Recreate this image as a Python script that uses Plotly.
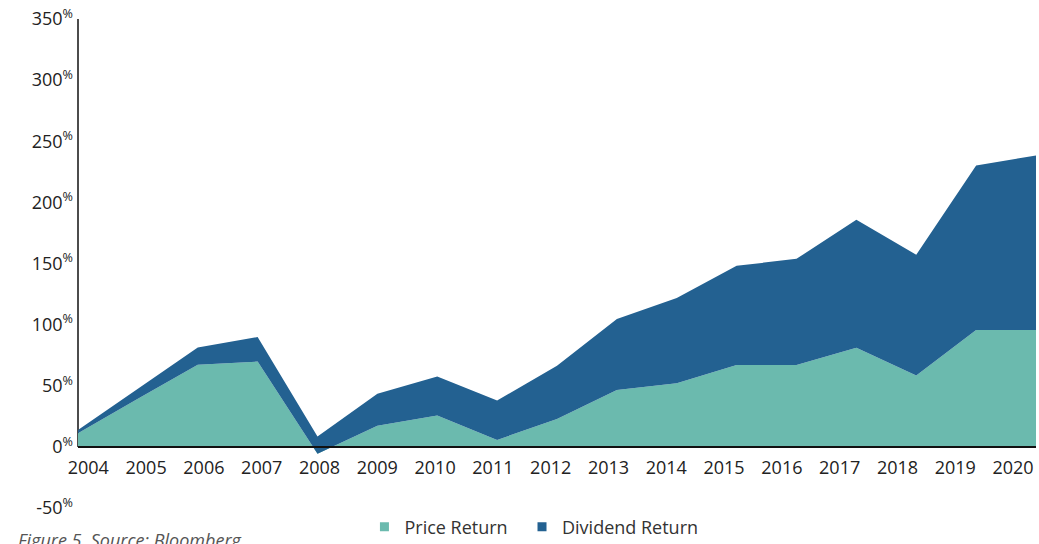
import plotly.graph_objects as go

# Cumulative returns (%) by year
years = [2004, 2005, 2006, 2007, 2008, 2009, 2010, 2011, 2012,
         2013, 2014, 2015, 2016, 2017, 2018, 2019, 2020]
price_return = [11.2, 39.3, 67.1, 69.8, -5.7, 17.2, 25.6, 5.7, 22.9,
                46.6, 52.1, 66.9, 66.9, 81.0, 58.3, 95.7, 95.7]
dividend_return = [2.7, 8.2, 14.2, 20.0, 14.1, 26.2, 31.9, 32.2, 43.4,
                   57.9, 69.6, 81.2, 86.9, 104.8, 98.8, 134.5, 142.7]

y_ticks = [-50, 0, 50, 100, 150, 200, 250, 300, 350]
y_tick_labels = [f"{v}<sup>%</sup>" for v in y_ticks]
year_labels = [str(y) for y in years]

TEAL = "#6BBAAE"
BLUE = "#236191"
FONT = "Open Sans"

# year labels sit on a slightly tighter spacing than the data points
label_start = years[0] + 0.172
label_step = 0.9653
label_pos = [label_start + i * label_step for i in range(len(years))]

fig = go.Figure()

fig.add_trace(go.Scatter(
    x=years, y=price_return, stackgroup="ret", mode="none",
    fillcolor=TEAL, name="Price Return", showlegend=False,
))
fig.add_trace(go.Scatter(
    x=years, y=dividend_return, stackgroup="ret", mode="none",
    fillcolor=BLUE, name="Dividend Return", showlegend=False,
))

# legend swatches (non-breaking spaces widen the gap between entries)
legend_items = [("Price Return\u00a0\u00a0", TEAL), ("Dividend Return", BLUE)]
for name, color in legend_items:
    fig.add_trace(go.Scatter(
        x=[None], y=[None], mode="markers", name=name,
        marker=dict(symbol="square", size=9, color=color),
    ))

y_min, y_max = y_ticks[0], y_ticks[-1]

fig.update_layout(
    width=1039, height=544,
    margin=dict(l=78, r=3, t=19, b=36, autoexpand=False),
    paper_bgcolor="white", plot_bgcolor="white",
    font=dict(family=FONT, size=18, color="#222222"),
    xaxis=dict(
        range=[years[0], years[-1]],
        tickvals=label_pos, ticktext=year_labels,
        showgrid=False, zeroline=False,
        showline=True, linecolor="#111111", linewidth=1.5,
        ticks="", anchor="free",
        position=(0 - y_min) / (y_max - y_min),
        ticklabelstandoff=5,
        tickfont=dict(size=18, color="#222222"),
    ),
    yaxis=dict(
        range=[y_min, y_max],
        tickvals=y_ticks, ticktext=y_tick_labels,
        showgrid=False, zeroline=False, showline=False,
        ticks="", ticklabelstandoff=4,
        tickfont=dict(size=18, color="#222222"),
    ),
    legend=dict(
        orientation="h", x=0.299, y=-0.001,
        xanchor="left", yanchor="top",
        traceorder="normal",
        font=dict(size=18, color="#333333"),
        bgcolor="rgba(0,0,0,0)",
    ),
    shapes=[
        # vertical axis line from 0% to the top of the scale
        dict(type="line", xref="x domain", x0=0, x1=0,
             yref="y", y0=0, y1=y_max,
             line=dict(color="#111111", width=1.5), layer="below"),
    ],
    annotations=[
        dict(text="<i>Figure 5. Source: Bloomberg</i>",
             xref="paper", yref="paper", x=-0.0647, y=-0.037,
             xanchor="left", yanchor="top", showarrow=False,
             font=dict(family=FONT, size=18, color="#555555")),
    ],
)

fig.write_html("out.html")
